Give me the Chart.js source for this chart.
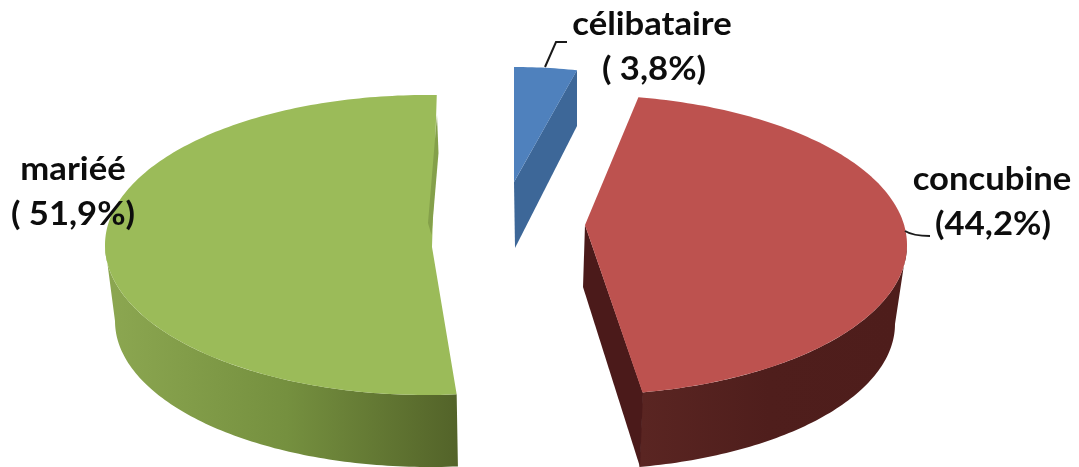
<!DOCTYPE html>
<html lang="fr">
<head>
<meta charset="utf-8">
<title>Situation matrimoniale</title>
<script src="https://cdn.jsdelivr.net/npm/chart.js@4/dist/chart.umd.js"></script>
<style>
  html, body { margin: 0; padding: 0; background: #ffffff; overflow: hidden; }
  #chartBox { position: relative; width: 1079px; height: 467px; }
</style>
</head>
<body>
<div id="chartBox"><canvas id="statusChart"></canvas></div>
<script>
// chart data
const categories = ["célibataire", "concubine", "mariéé"];
const shares = [3.8, 44.2, 51.9];
const shareLabels = ["( 3,8%)", "(44,2%)", "( 51,9%)"];

// colours of the top faces
const faceColors = ["#4f81bd", "#bd524f", "#9bbb59"];

// each slice sits on its own ellipse because of the explosion and perspective.
// rim = top ellipse, base = bottom ellipse, turn = small angle correction in degrees
const sliceShapes = [
  {
    rim: { x: 514, y: 182, rx: 266, ry: 115 },
    apex: [514, 182],
    turn: 0,
    inner: { color: "#3d6798", points: [[577, 70], [577, 126], [515, 248], [514, 182]] },
  },
  {
    rim: { x: 582, y: 245, rx: 325, ry: 150 },
    base: { x: 581, y: 324, rx: 314, ry: 145.5 },
    apex: [585, 225],
    turn: -3.7,
    wallFrom: 90,
    wallColors: ["#4e1d1b", "#4f1e1c", "#5a2522"],
    wallSpan: [895, 642],
    inner: { color: "#4b1a1a", points: [[585, 225], [643, 393], [640, 467], [583, 287]] },
  },
  {
    rim: { x: 427, y: 245, rx: 322, ry: 150 },
    base: { x: 429, y: 321, rx: 314, ry: 146 },
    apex: [432, 247],
    turn: 1.74,
    wallTo: 270,
    wallColors: ["#8ba650", "#75903f", "#536329"],
    wallSpan: [115, 458],
    sliver: { color: "#84a04a", points: [[437, 115], [438.5, 153], [431.5, 235], [428, 223]] },
  },
];

// label text positions (centre x, baseline y)
const namePlaces = [[652, 35], [992, 190], [73, 180]];
const sharePlaces = [[654, 80], [993, 235], [73, 225]];
const labelStretch = 1.05;

function rimPoint(ellipse, degrees) {
  const a = (degrees * Math.PI) / 180;
  return [ellipse.x + ellipse.rx * Math.sin(a), ellipse.y - ellipse.ry * Math.cos(a)];
}

function fillPolygon(ctx, points, color) {
  ctx.beginPath();
  points.forEach((p, i) => (i == 0 ? ctx.moveTo(p[0], p[1]) : ctx.lineTo(p[0], p[1])));
  ctx.closePath();
  ctx.fillStyle = color;
  ctx.fill();
}

// list of points along an ellipse between two angles
function arcPoints(ellipse, from, to) {
  const points = [];
  const steps = Math.max(2, Math.ceil(Math.abs(to - from)));
  for (let i = 0; i <= steps; i++) {
    points.push(rimPoint(ellipse, from + ((to - from) * i) / steps));
  }
  return points;
}

// text slightly wider than the font's own proportions
function drawWideText(ctx, text, place) {
  ctx.save();
  ctx.translate(place[0], place[1]);
  ctx.scale(labelStretch, 1);
  ctx.fillText(text, 0, 0);
  ctx.restore();
}

// pie controller that keeps the library's angles but paints them as a thick tilted disc
class Pie3dController extends Chart.PieController {
  draw() {
    const ctx = this.chart.ctx;
    const arcs = this.getMeta().data;
    ctx.save();
    for (let i = arcs.length - 1; i >= 0; i--) {
      const shape = sliceShapes[i];
      // library angles start at -90deg, ours start at the top of the ellipse
      const start = (arcs[i].startAngle * 180) / Math.PI + 90 + shape.turn;
      const end = (arcs[i].endAngle * 180) / Math.PI + 90 + shape.turn;

      // outer wall
      if (shape.base) {
        const from = shape.wallFrom !== undefined ? shape.wallFrom : start;
        const to = shape.wallTo !== undefined ? shape.wallTo : end;
        const gradient = ctx.createLinearGradient(shape.wallSpan[0], 0, shape.wallSpan[1], 0);
        gradient.addColorStop(0, shape.wallColors[0]);
        gradient.addColorStop(0.5, shape.wallColors[1]);
        gradient.addColorStop(1, shape.wallColors[2]);
        const top = arcPoints(shape.rim, from, to);
        const bottom = arcPoints(shape.base, to, from);
        fillPolygon(ctx, top.concat(bottom), gradient);
      }

      // wall seen through the cut
      if (shape.inner) {
        fillPolygon(ctx, shape.inner.points, shape.inner.color);
      }

      // top face
      const face = [shape.apex].concat(arcPoints(shape.rim, start, end));
      fillPolygon(ctx, face, arcs[i].options.backgroundColor);

      if (shape.sliver) {
        fillPolygon(ctx, shape.sliver.points, shape.sliver.color);
      }
    }
    ctx.restore();
  }
}
Pie3dController.id = "pie3d";
Pie3dController.defaults = Chart.PieController.defaults;
Pie3dController.overrides = Chart.PieController.overrides;
Chart.register(Pie3dController);

// leader lines and slice labels
const sliceLabels = {
  id: "sliceLabels",
  afterDraw(chart) {
    const ctx = chart.ctx;
    ctx.save();
    ctx.strokeStyle = "#1a1a1a";
    ctx.lineWidth = 2;
    ctx.beginPath();
    ctx.moveTo(545, 67);
    ctx.lineTo(556, 42);
    ctx.lineTo(567, 42);
    ctx.stroke();
    ctx.beginPath();
    ctx.moveTo(905, 231);
    ctx.quadraticCurveTo(913, 236, 930, 236);
    ctx.stroke();

    ctx.fillStyle = "#0d0d0d";
    ctx.textAlign = "center";
    ctx.textBaseline = "alphabetic";
    ctx.font = "700 33px Lato";
    categories.forEach((name, i) => {
      drawWideText(ctx, name, namePlaces[i]);
      drawWideText(ctx, shareLabels[i], sharePlaces[i]);
    });
    ctx.restore();
  },
};

new Chart(document.getElementById("statusChart"), {
  type: "pie3d",
  data: {
    labels: categories,
    datasets: [{ data: shares, backgroundColor: faceColors, borderWidth: 0 }],
  },
  options: {
    responsive: true,
    maintainAspectRatio: false,
    animation: false,
    layout: { padding: 0 },
    plugins: {
      legend: { display: false },
      title: { display: false },
      tooltip: { enabled: false },
    },
  },
  plugins: [sliceLabels],
});
</script>
</body>
</html>
